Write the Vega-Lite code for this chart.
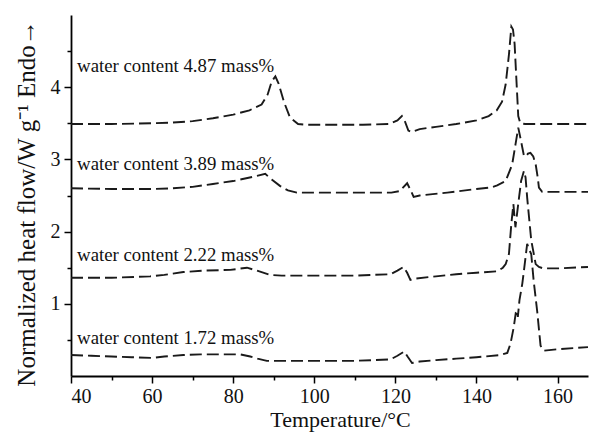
{
  "$schema": "https://vega.github.io/schema/vega-lite/v6.json",
  "width": 517,
  "height": 361,
  "autosize": {"type": "none"},
  "padding": {"left": 71, "top": 15, "right": 2, "bottom": 57},
  "background": "white",
  "config": {
    "view": {"stroke": null},
    "font": "Liberation Serif",
    "axis": {"grid": false, "domainColor": "#000", "domainWidth": 1.8, "tickColor": "#000", "tickWidth": 1.5, "labelColor": "#111", "titleColor": "#111", "labelFont": "Liberation Serif", "titleFont": "Liberation Serif", "titleFontWeight": "normal"}
  },
  "datasets": {
    "curves": [
      {"content": "4.87", "T": 40, "V": 3.49}, {"content": "4.87", "T": 50, "V": 3.49}, {"content": "4.87", "T": 60, "V": 3.5}, {"content": "4.87", "T": 65, "V": 3.51}, {"content": "4.87", "T": 70, "V": 3.53}, {"content": "4.87", "T": 75, "V": 3.57}, {"content": "4.87", "T": 80, "V": 3.62}, {"content": "4.87", "T": 84, "V": 3.68}, {"content": "4.87", "T": 87, "V": 3.76}, {"content": "4.87", "T": 88.5, "V": 3.9}, {"content": "4.87", "T": 89.5, "V": 4.08}, {"content": "4.87", "T": 90.4, "V": 4.15}, {"content": "4.87", "T": 91.2, "V": 4.05}, {"content": "4.87", "T": 92.5, "V": 3.8}, {"content": "4.87", "T": 94, "V": 3.58}, {"content": "4.87", "T": 96, "V": 3.49}, {"content": "4.87", "T": 98, "V": 3.48}, {"content": "4.87", "T": 105, "V": 3.48}, {"content": "4.87", "T": 112, "V": 3.48}, {"content": "4.87", "T": 118.5, "V": 3.49}, {"content": "4.87", "T": 120.5, "V": 3.54}, {"content": "4.87", "T": 121.6, "V": 3.6}, {"content": "4.87", "T": 122.4, "V": 3.52}, {"content": "4.87", "T": 123.2, "V": 3.4}, {"content": "4.87", "T": 124, "V": 3.38}, {"content": "4.87", "T": 126, "V": 3.42}, {"content": "4.87", "T": 130, "V": 3.45}, {"content": "4.87", "T": 135, "V": 3.49}, {"content": "4.87", "T": 140, "V": 3.54}, {"content": "4.87", "T": 143, "V": 3.6}, {"content": "4.87", "T": 145, "V": 3.68}, {"content": "4.87", "T": 146.3, "V": 3.8}, {"content": "4.87", "T": 147.2, "V": 4.04}, {"content": "4.87", "T": 148, "V": 4.45}, {"content": "4.87", "T": 148.6, "V": 4.84}, {"content": "4.87", "T": 149.0, "V": 4.8}, {"content": "4.87", "T": 149.4, "V": 4.6}, {"content": "4.87", "T": 149.9, "V": 4.04}, {"content": "4.87", "T": 150.3, "V": 3.6}, {"content": "4.87", "T": 150.8, "V": 3.5}, {"content": "4.87", "T": 152, "V": 3.49}, {"content": "4.87", "T": 160, "V": 3.49}, {"content": "4.87", "T": 167.5, "V": 3.49},
      {"content": "3.89", "T": 40, "V": 2.6}, {"content": "3.89", "T": 50, "V": 2.59}, {"content": "3.89", "T": 60, "V": 2.59}, {"content": "3.89", "T": 65, "V": 2.6}, {"content": "3.89", "T": 70, "V": 2.62}, {"content": "3.89", "T": 75, "V": 2.66}, {"content": "3.89", "T": 80, "V": 2.7}, {"content": "3.89", "T": 85, "V": 2.76}, {"content": "3.89", "T": 87.9, "V": 2.8}, {"content": "3.89", "T": 89.5, "V": 2.72}, {"content": "3.89", "T": 91.6, "V": 2.63}, {"content": "3.89", "T": 93.5, "V": 2.57}, {"content": "3.89", "T": 95.7, "V": 2.54}, {"content": "3.89", "T": 100, "V": 2.54}, {"content": "3.89", "T": 110, "V": 2.54}, {"content": "3.89", "T": 119, "V": 2.54}, {"content": "3.89", "T": 121, "V": 2.56}, {"content": "3.89", "T": 122.9, "V": 2.67}, {"content": "3.89", "T": 123.7, "V": 2.58}, {"content": "3.89", "T": 124.5, "V": 2.48}, {"content": "3.89", "T": 126, "V": 2.5}, {"content": "3.89", "T": 132.8, "V": 2.54}, {"content": "3.89", "T": 140, "V": 2.59}, {"content": "3.89", "T": 143.5, "V": 2.61}, {"content": "3.89", "T": 145.1, "V": 2.64}, {"content": "3.89", "T": 147.2, "V": 2.7}, {"content": "3.89", "T": 148.8, "V": 2.93}, {"content": "3.89", "T": 149.6, "V": 3.2}, {"content": "3.89", "T": 150.3, "V": 3.44}, {"content": "3.89", "T": 151, "V": 3.25}, {"content": "3.89", "T": 151.7, "V": 3.05}, {"content": "3.89", "T": 152.2, "V": 3.04}, {"content": "3.89", "T": 152.7, "V": 3.08}, {"content": "3.89", "T": 153.3, "V": 3.09}, {"content": "3.89", "T": 154, "V": 3.04}, {"content": "3.89", "T": 154.6, "V": 2.93}, {"content": "3.89", "T": 155.1, "V": 2.75}, {"content": "3.89", "T": 155.4, "V": 2.61}, {"content": "3.89", "T": 156.2, "V": 2.55}, {"content": "3.89", "T": 160, "V": 2.55}, {"content": "3.89", "T": 167.5, "V": 2.55},
      {"content": "2.22", "T": 40, "V": 1.36}, {"content": "2.22", "T": 50, "V": 1.36}, {"content": "2.22", "T": 59.5, "V": 1.38}, {"content": "2.22", "T": 63, "V": 1.4}, {"content": "2.22", "T": 67.7, "V": 1.44}, {"content": "2.22", "T": 73, "V": 1.46}, {"content": "2.22", "T": 79.3, "V": 1.47}, {"content": "2.22", "T": 83.4, "V": 1.5}, {"content": "2.22", "T": 85.8, "V": 1.46}, {"content": "2.22", "T": 89.1, "V": 1.4}, {"content": "2.22", "T": 92, "V": 1.39}, {"content": "2.22", "T": 100, "V": 1.39}, {"content": "2.22", "T": 110, "V": 1.39}, {"content": "2.22", "T": 118.8, "V": 1.41}, {"content": "2.22", "T": 120.5, "V": 1.46}, {"content": "2.22", "T": 122, "V": 1.51}, {"content": "2.22", "T": 122.9, "V": 1.43}, {"content": "2.22", "T": 123.7, "V": 1.33}, {"content": "2.22", "T": 125, "V": 1.35}, {"content": "2.22", "T": 130, "V": 1.38}, {"content": "2.22", "T": 135, "V": 1.41}, {"content": "2.22", "T": 140, "V": 1.43}, {"content": "2.22", "T": 145.1, "V": 1.45}, {"content": "2.22", "T": 146.5, "V": 1.5}, {"content": "2.22", "T": 147.2, "V": 1.55}, {"content": "2.22", "T": 148, "V": 1.69}, {"content": "2.22", "T": 148.6, "V": 2.11}, {"content": "2.22", "T": 149.1, "V": 2.38}, {"content": "2.22", "T": 149.6, "V": 2.06}, {"content": "2.22", "T": 150.4, "V": 2.43}, {"content": "2.22", "T": 151.0, "V": 2.7}, {"content": "2.22", "T": 151.7, "V": 2.84}, {"content": "2.22", "T": 152.1, "V": 2.75}, {"content": "2.22", "T": 152.5, "V": 2.47}, {"content": "2.22", "T": 153.5, "V": 1.88}, {"content": "2.22", "T": 154.6, "V": 1.55}, {"content": "2.22", "T": 155.4, "V": 1.51}, {"content": "2.22", "T": 156.5, "V": 1.49}, {"content": "2.22", "T": 160, "V": 1.49}, {"content": "2.22", "T": 167.5, "V": 1.51},
      {"content": "1.72", "T": 40, "V": 0.29}, {"content": "1.72", "T": 45, "V": 0.28}, {"content": "1.72", "T": 50, "V": 0.27}, {"content": "1.72", "T": 55, "V": 0.26}, {"content": "1.72", "T": 60, "V": 0.25}, {"content": "1.72", "T": 63, "V": 0.27}, {"content": "1.72", "T": 67.7, "V": 0.29}, {"content": "1.72", "T": 72, "V": 0.3}, {"content": "1.72", "T": 77, "V": 0.3}, {"content": "1.72", "T": 81.7, "V": 0.3}, {"content": "1.72", "T": 84.2, "V": 0.27}, {"content": "1.72", "T": 86, "V": 0.24}, {"content": "1.72", "T": 88.3, "V": 0.21}, {"content": "1.72", "T": 92, "V": 0.21}, {"content": "1.72", "T": 100, "V": 0.21}, {"content": "1.72", "T": 110, "V": 0.21}, {"content": "1.72", "T": 118.8, "V": 0.23}, {"content": "1.72", "T": 120.5, "V": 0.28}, {"content": "1.72", "T": 122.2, "V": 0.34}, {"content": "1.72", "T": 123, "V": 0.27}, {"content": "1.72", "T": 124.1, "V": 0.18}, {"content": "1.72", "T": 126, "V": 0.2}, {"content": "1.72", "T": 130, "V": 0.22}, {"content": "1.72", "T": 135, "V": 0.24}, {"content": "1.72", "T": 140, "V": 0.26}, {"content": "1.72", "T": 145.9, "V": 0.29}, {"content": "1.72", "T": 147.6, "V": 0.32}, {"content": "1.72", "T": 148.4, "V": 0.45}, {"content": "1.72", "T": 149.2, "V": 0.68}, {"content": "1.72", "T": 149.7, "V": 0.88}, {"content": "1.72", "T": 150.0, "V": 0.91}, {"content": "1.72", "T": 150.2, "V": 0.82}, {"content": "1.72", "T": 150.6, "V": 1.05}, {"content": "1.72", "T": 151.3, "V": 1.28}, {"content": "1.72", "T": 151.7, "V": 1.46}, {"content": "1.72", "T": 152.5, "V": 1.83}, {"content": "1.72", "T": 153.0, "V": 1.75}, {"content": "1.72", "T": 153.5, "V": 1.69}, {"content": "1.72", "T": 154.1, "V": 1.32}, {"content": "1.72", "T": 155, "V": 0.88}, {"content": "1.72", "T": 155.8, "V": 0.42}, {"content": "1.72", "T": 156.6, "V": 0.35}, {"content": "1.72", "T": 160, "V": 0.37}, {"content": "1.72", "T": 167.5, "V": 0.4}
    ],
    "labels": [
      {"T": 41.5, "V": 4.3, "label": "water content 4.87 mass%"},
      {"T": 41.5, "V": 2.94, "label": "water content 3.89 mass%"},
      {"T": 41.5, "V": 1.67, "label": "water content 2.22 mass%"},
      {"T": 41.5, "V": 0.52, "label": "water content 1.72 mass%"}
    ]
  },
  "layer": [
    {
      "data": {"name": "curves"},
      "mark": {"type": "line", "color": "#1a1a1a", "strokeWidth": 1.9, "strokeDash": [12, 5], "clip": true},
      "encoding": {
        "x": {
          "field": "T", "type": "quantitative",
          "scale": {"domain": [40, 167.5], "nice": false, "zero": false},
          "axis": {
            "values": [40, 50, 60, 70, 80, 90, 100, 110, 120, 130, 140, 150, 160],
            "labelExpr": "datum.value % 20 === 0 ? format(datum.value, 'd') : ''",
            "tickSize": {"condition": {"test": "datum.value % 20 === 0", "value": 7}, "value": 4},
            "labelFontSize": 20, "labelPadding": 3,
            "title": "Temperature/°C", "titleFontSize": 22,
            "titleX": 269, "titleY": 50, "titleAnchor": null, "titleBaseline": "alphabetic", "titleAlign": "center"
          }
        },
        "y": {
          "field": "V", "type": "quantitative",
          "scale": {"domain": [0, 5], "nice": false},
          "axis": {
            "values": [0.5, 1, 1.5, 2, 2.5, 3, 3.5, 4, 4.5],
            "labelExpr": "datum.value % 1 === 0 ? format(datum.value, 'd') : ''",
            "tickSize": {"condition": {"test": "datum.value % 1 === 0", "value": 7}, "value": 4},
            "labelFontSize": 20, "labelPadding": 4,
            "title": "Normalized heat flow/W g⁻¹ Endo→", "titleFontSize": 25,
            "titleAngle": -90, "titleX": -45, "titleY": 188, "titleAlign": "center", "titleBaseline": "middle"
          }
        },
        "detail": {"field": "content", "type": "nominal"}
      }
    },
    {
      "data": {"name": "labels"},
      "mark": {"type": "text", "align": "left", "baseline": "middle", "fontSize": 18.8, "font": "Liberation Serif", "color": "#111"},
      "encoding": {
        "x": {"field": "T", "type": "quantitative"},
        "y": {"field": "V", "type": "quantitative"},
        "text": {"field": "label"}
      }
    }
  ]
}
